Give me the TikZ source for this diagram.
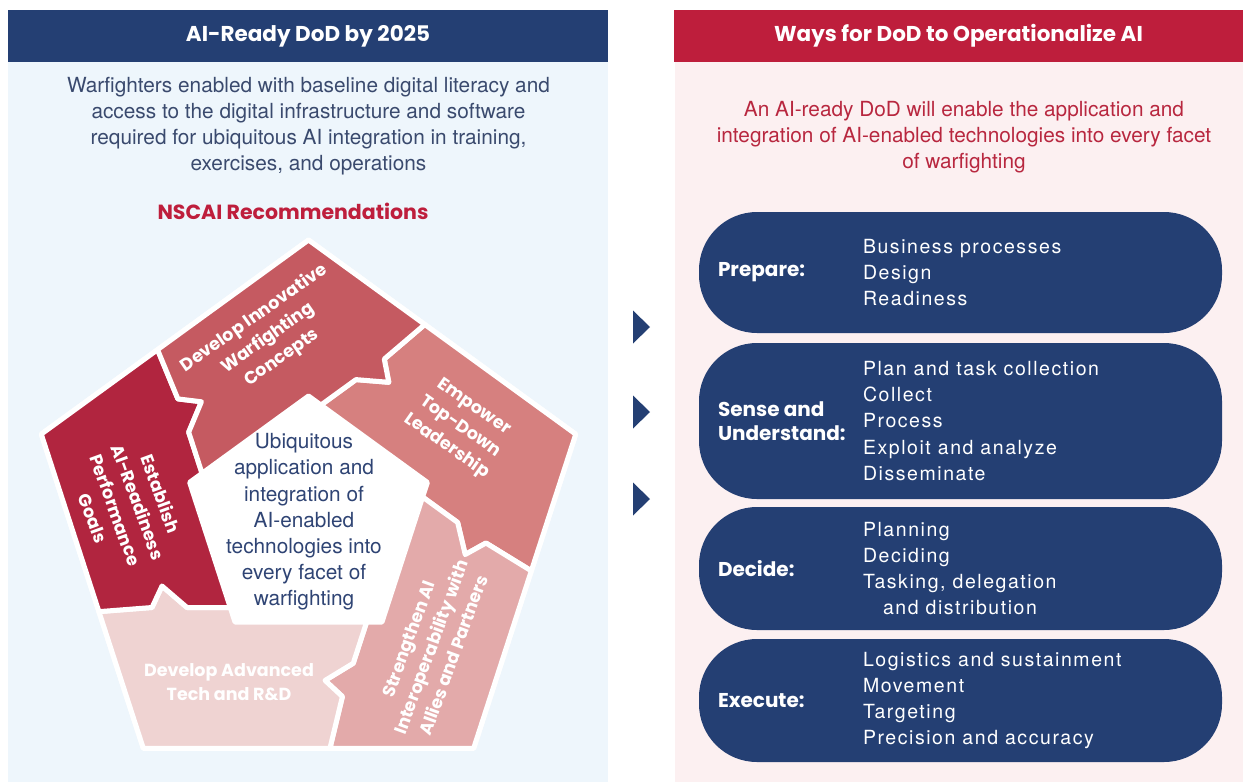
\documentclass[tikz,border=0pt]{standalone}
\usepackage{fontspec}
\setmainfont{TeX Gyre Heros}
\newfontfamily\headfont{Poppins}
\newfontfamily\itemfont{TeX Gyre Heros}[LetterSpace=8]
\usetikzlibrary{positioning,calc}

\definecolor{dodnavy}{HTML}{243F73}
\definecolor{dodred}{HTML}{BE1E3C}
\definecolor{leftpanel}{HTML}{EEF6FC}
\definecolor{rightpanel}{HTML}{FCF0F1}
\definecolor{bluetext}{HTML}{3A4A6E}
\definecolor{redtext}{HTML}{B8273F}
\definecolor{coretext}{HTML}{2F4474}
\definecolor{goals}{HTML}{B1253F}
\definecolor{concepts}{HTML}{C55A61}
\definecolor{empower}{HTML}{D6807F}
\definecolor{allies}{HTML}{E3AAAA}
\definecolor{techrd}{HTML}{EFD3D2}

\tikzset{
  headbar/.style={minimum height=52pt, inner sep=0pt, text=white,
    font=\headfont\bfseries\fontsize{21.5}{25}\selectfont},
  blurb/.style={align=center, inner sep=0pt, font=\fontsize{20.8}{26.2}\selectfont},
  sector/.style={draw=white, line width=5pt, line join=round},
  seclabel/.style={align=center, inner sep=0pt, text=white,
    font=\headfont\bfseries\fontsize{17.5}{24}\selectfont},
  pill/.style={fill=dodnavy, rounded corners=58pt, minimum width=523pt, inner sep=0pt},
  pilltitle/.style={anchor=west, align=left, inner sep=0pt, text=white,
    font=\headfont\bfseries\fontsize{20}{24}\selectfont},
  pillitems/.style={anchor=west, align=left, inner sep=0pt, text=white,
    font=\itemfont\fontsize{19.5}{26.3}\selectfont},
}

\begin{document}
\begin{tikzpicture}[x=1pt, y=-1pt]
  \useasboundingbox (0,0) rectangle (1243,782);
  % Panels
  \fill[leftpanel] (8,62) rectangle (608,782);
  \fill[rightpanel] (675,62) rectangle (1243,782);
  % Headers
  \node[headbar, fill=dodnavy, minimum width=600pt] (lefthead) at (308,36) {AI-Ready DoD by 2025};
  \node[headbar, fill=dodred, minimum width=569pt] (righthead) at (958.5,36) {Ways for DoD to Operationalize AI};
  % Blurbs under the headers
  \node[blurb, text=bluetext] (leftblurb) at (308.5,126) {Warfighters enabled with baseline digital literacy and\\
    access to the digital infrastructure and software\\
    required for ubiquitous AI integration in training,\\
    exercises, and operations};
  \node[blurb, text=redtext] (rightblurb) at (964,137) {An AI-ready DoD will enable the application and\\
    integration of AI-enabled technologies into every facet\\
    of warfighting};
  \node[text=dodred, inner sep=0pt, font=\headfont\bfseries\fontsize{20.5}{24}\selectfont] (nscai) at (293,211) {NSCAI Recommendations};

  % Pentagon corners and cuts, all turned copies of the lower left one
  \coordinate (C) at (308.5,521);
  \foreach \k in {0,...,4}
  {
  \begin{scope}[rotate around={72*(3-\k):(C)}]
    \coordinate (V\k) at (143.3,748.3);
    \coordinate (I\k) at (235.0,622.1);
    \coordinate (A\k) at (230.3,607.5);
    \coordinate (B\k) at (187,607.5);
    \coordinate (T\k) at (162,586);
    \coordinate (E\k) at (152,607.5);
  \end{scope}
  }
  \foreach \k in {0,...,4}
  {
  \pgfmathtruncatemacro\n{mod(\k+1,5)}
  \coordinate (P\k) at ($(V\k)!0.435!(V\n)$);
  }
  % White plate under the pieces
  \filldraw[white, line width=5pt, line join=round] (V0) -- (V1) -- (V2) -- (V3) -- (V4) -- cycle;
  % Pieces
  \foreach \k/\col in {0/empower,1/allies,2/techrd,3/goals,4/concepts}
  {
  \pgfmathtruncatemacro\n{mod(\k+1,5)}
  \filldraw[sector, fill=\col] (A\k) -- (I\n) -- (A\n) -- (B\n) -- (T\n) -- (E\n) -- (P\n)
    -- (V\n) -- (P\k) -- (E\k) -- (T\k) -- (B\k) -- cycle;
  }
  % Labels on the pieces
  \node[seclabel, rotate=35] (conceptslabel) at (268,338) {Develop Innovative\\Warfighting\\Concepts};
  \node[seclabel, rotate=-35] (empowerlabel) at (460,427) {Empower\\Top-Down\\Leadership};
  \node[seclabel, rotate=70] (allieslabel) at (431,647) {Strengthen AI\\Interoperability with\\Allies and Partners};
  \node[seclabel, rotate=-70] (goalslabel) at (127,506) {Establish\\AI-Readiness\\Performance\\Goals};
  \node[seclabel] (techlabel) at (229,682) {Develop Advanced\\Tech and R\&D};
  \node[blurb, text=coretext] (core) at (304,522) {Ubiquitous\\application and\\integration of\\AI-enabled\\technologies into\\every facet of\\warfighting};

  % Arrows between the panels
  \foreach \y in {327,412,499}
    \fill[dodnavy] (633,\y-16.5) -- (650,\y) -- (633,\y+16.5) -- cycle;

  % Ways
  \node[pill, minimum height=121pt] (prepare) at (960.5,272.5) {};
  \node[pill, minimum height=156pt] (sense) at (960.5,421) {};
  \node[pill, minimum height=123pt] (decide) at (960.5,568.5) {};
  \node[pill, minimum height=123pt] (execute) at (960.5,700.5) {};
  \node[pilltitle] (preparetitle) at ([xshift=19pt]prepare.west) {Prepare:};
  \node[pilltitle] (sensetitle) at ([xshift=19pt]sense.west) {Sense and\\Understand:};
  \node[pilltitle] (decidetitle) at ([xshift=19pt]decide.west) {Decide:};
  \node[pilltitle] (executetitle) at ([xshift=19pt]execute.west) {Execute:};
  \node[pillitems] (prepareitems) at ([xshift=164pt]prepare.west) {Business processes\\Design\\Readiness};
  \node[pillitems] (senseitems) at ([xshift=164pt]sense.west) {Plan and task collection\\Collect\\Process\\Exploit and analyze\\Disseminate};
  \node[pillitems] (decideitems) at ([xshift=164pt]decide.west) {Planning\\Deciding\\Tasking, delegation\\\hspace*{20pt}and distribution};
  \node[pillitems] (executeitems) at ([xshift=164pt]execute.west) {Logistics and sustainment\\Movement\\Targeting\\Precision and accuracy};
\end{tikzpicture}
\end{document}
